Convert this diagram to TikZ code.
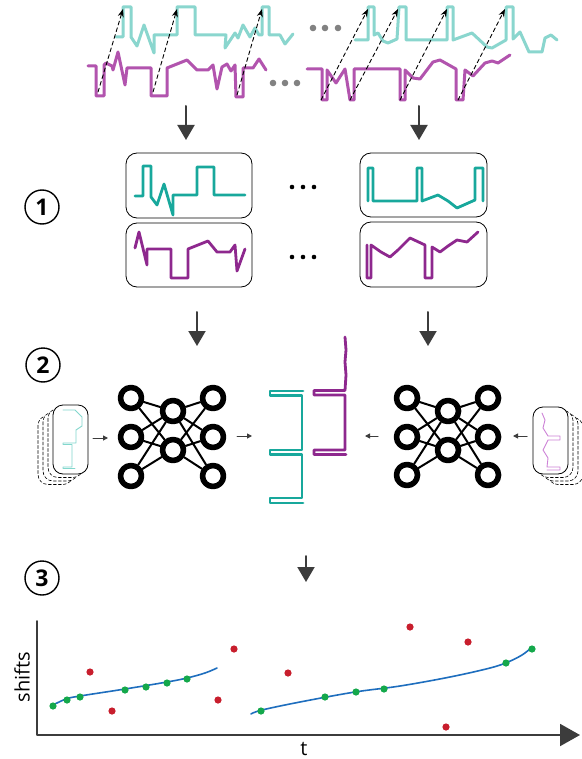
\documentclass[tikz,border=0pt]{standalone}
\usepackage{fontspec}
\setmainfont{Open Sans}
\usetikzlibrary{arrows.meta}
\definecolor{tealTop}{RGB}{138,214,206}
\definecolor{magTop}{RGB}{178,84,174}
\definecolor{tealDark}{RGB}{24,168,156}
\definecolor{magDark}{RGB}{142,40,142}
\definecolor{tealCard}{RGB}{130,215,205}
\definecolor{magCard}{RGB}{205,130,215}
\definecolor{arrowGrey}{RGB}{60,60,60}
\definecolor{dotGrey}{RGB}{130,130,130}
\definecolor{ptRed}{RGB}{200,30,45}
\definecolor{ptGreen}{RGB}{20,168,75}
\definecolor{fitBlue}{RGB}{30,110,190}
\tikzset{
  sigtealtop/.style={draw=tealTop,line width=3pt},
  sigmagtop/.style={draw=magTop,line width=3pt},
  sigteal/.style={draw=tealDark,line width=2.8pt},
  sigmag/.style={draw=magDark,line width=2.8pt},
  shiftarrow/.style={draw=black,line width=0.9pt,dash pattern=on 4pt off 3pt,-{Stealth[length=8pt,width=6pt]}},
  bigarrow/.style={draw=arrowGrey,line width=2pt,-{Triangle[length=15pt,width=17pt]}},
  smallarrow/.style={draw=arrowGrey,line width=1pt,-{Triangle[length=5pt,width=5pt]}},
  panel/.style={draw=black,line width=0.8pt,rounded corners=11pt},
  frontcard/.style={draw=black,fill=white,line width=0.8pt,rounded corners=10pt},
  backcard/.style={draw=black,fill=white,line width=0.6pt,densely dashed,rounded corners=10pt},
  neuron/.style={circle,draw=black,fill=white,line width=5.6pt,minimum size=21pt,inner sep=0pt},
  synapse/.style={draw=black,line width=2pt},
  steplabel/.style={circle,draw=black,line width=1.4pt,minimum size=34pt,inner sep=0pt,font=\fontsize{23}{23}\selectfont\bfseries},
  greydot/.style={fill=dotGrey},
  blackdot/.style={fill=black},
  reddot/.style={fill=ptRed},
  greendot/.style={fill=ptGreen},
}
\begin{document}
\begin{tikzpicture}[x=1pt,y=-1pt,line join=round,line cap=round]
\useasboundingbox (0,0) rectangle (581,759);
\fill[white] (0,0) rectangle (581,759);

% ---------- raw channels, top row ----------
\draw[sigtealtop] (116,37) -- (123,37) -- (123,7) -- (131,7) -- (131,37) -- (137,46) -- (144,25) -- (154,53) -- (154,35) -- (177,35) -- (177,7) -- (195,7) -- (195,35) -- (226,35) -- (225,48) -- (235,33) -- (238,38) -- (243,25) -- (250,37) -- (255,28) -- (259,35) -- (262,35) -- (262,7) -- (269,7) -- (269,35) -- (280,35) -- (285,44) -- (293,34);
\draw[sigmagtop] (88,66) -- (96,66) -- (96,96) -- (104,96) -- (104,65) -- (106,63) -- (112,66) -- (113,70) -- (118,52) -- (125,85) -- (127,68) -- (151,68) -- (151,96) -- (167,96) -- (167,68) -- (187,60) -- (197,70) -- (208,70) -- (213,65) -- (217,89) -- (222,67) -- (227,64) -- (231,71) -- (235,65) -- (236,97) -- (243,97) -- (243,68) -- (253,68) -- (259,59) -- (266,70);

\draw[sigtealtop] (355,40) -- (368,40) -- (368,7) -- (374,7) -- (374,35) -- (378,33) -- (383,41) -- (388,43) -- (397,39) -- (399,7) -- (406,7) -- (406,40) -- (447,40) -- (447,7) -- (453,7) -- (453,40) -- (472,33) -- (487,47) -- (492,48) -- (506,40) -- (506,7) -- (513,7) -- (513,39) -- (520,32) -- (529,52) -- (542,52) -- (545,38) -- (551,35) -- (557,40);
\draw[sigmagtop] (307,69) -- (322,69) -- (322,100) -- (327,100) -- (327,70) -- (336,83) -- (345,69) -- (350,100) -- (354,100) -- (354,69) -- (400,69) -- (400,100) -- (405,100) -- (405,70) -- (413,78) -- (420,79) -- (433,62) -- (440,60) -- (456,69) -- (456,100) -- (463,100) -- (465,70) -- (473,76) -- (485,63) -- (492,61) -- (498,63) -- (510,55);

% ellipses between the two halves
\foreach \x in {273,285,297} \fill[greydot] (\x,83) circle[radius=3.3pt];
\foreach \x in {313,325,338} \fill[greydot] (\x,28) circle[radius=3.3pt];

% shift vectors from the lower channel to the upper one
\foreach \i/\ax/\ay/\bx/\by in {1/98/92/123/9, 2/153/92/177/9, 3/237/95/262/9, 4/321/100/368/9, 5/350/100/398/9, 6/400/100/447/9, 7/458/100/505/9}{
  \coordinate (s\i) at (\ax,\ay);
  \coordinate (e\i) at (\bx,\by);
  \draw[shiftarrow] (s\i) -- (e\i);
}

% ---------- step 1: aligned windows ----------
\coordinate (d1a) at (186,106); \coordinate (d1b) at (186,140);
\coordinate (d2a) at (419,106); \coordinate (d2b) at (419,140);
\draw[bigarrow] (d1a) -- (d1b);
\draw[bigarrow] (d2a) -- (d2b);

\node[steplabel] (n1) at (42,207) {1};

\draw[panel] (126,153) rectangle (252,218);
\draw[panel] (126,223) rectangle (252,287);
\draw[panel] (360,153) rectangle (487,217);
\draw[panel] (360,222) rectangle (487,287);

\draw[sigteal] (135,196) -- (143,196) -- (143,166) -- (151,166) -- (151,197) -- (157,205) -- (164,184) -- (173,215) -- (173,195) -- (197,195) -- (197,167) -- (214,167) -- (214,195) -- (245,195);
\draw[sigmag] (135,248) -- (139,232) -- (147,265) -- (147,249) -- (171,249) -- (171,278) -- (188,278) -- (188,249) -- (208,241) -- (217,252) -- (230,252) -- (235,245) -- (237,271) -- (245,249);
\draw[sigteal] (368,201) -- (368,168) -- (373,168) -- (373,201) -- (417,201) -- (417,168) -- (422,168) -- (422,201) -- (438,195) -- (448,201) -- (457,208) -- (466,204) -- (475,200) -- (475,168) -- (483,168) -- (483,201);
\draw[sigmag] (367,245) -- (367,278) -- (371,278) -- (371,245) -- (381,252) -- (390,257) -- (398,250) -- (410,238) -- (425,245) -- (425,278) -- (432,278) -- (432,247) -- (440,252) -- (448,246) -- (457,240) -- (467,242) -- (478,232);

\foreach \x in {292,303,314} {
  \fill[blackdot] (\x,187) circle[radius=2.3pt];
  \fill[blackdot] (\x,257) circle[radius=2.3pt];
}

% ---------- step 2: shift estimation networks ----------
\coordinate (d3a) at (197,312); \coordinate (d3b) at (197,346);
\coordinate (d4a) at (428,312); \coordinate (d4b) at (428,346);
\draw[bigarrow] (d3a) -- (d3b);
\draw[bigarrow] (d4a) -- (d4b);

\node[steplabel] (n2) at (43,365) {2};

% left network
\foreach \n/\x/\y in {l1/131/398, l2/131/437, l3/131/476, m1/173/411, m2/173/450, r1/213/398, r2/213/437, r3/213/476}
  \node[neuron] (L\n) at (\x,\y) {};
% right network
\foreach \n/\x/\y in {l1/407/398, l2/407/437, l3/407/475, m1/448/411, m2/448/450, r1/488/398, r2/488/437, r3/488/475}
  \node[neuron] (R\n) at (\x,\y) {};
\foreach \net in {L,R}{
  \foreach \a in {l1,l2,l3}
    \foreach \b in {m1,m2}
      \draw[synapse] (\net\a) -- (\net\b);
  \foreach \a in {m1,m2}
    \foreach \b in {r1,r2,r3}
      \draw[synapse] (\net\a) -- (\net\b);
}

% input stacks
\foreach \k in {3,2,1}
  \draw[backcard] (53-5*\k,405+3.5*\k) rectangle (88-5*\k,474+3.5*\k);
\draw[frontcard] (53,405) rectangle (88,474);
\draw[draw=tealCard,line width=0.9pt] (63,410) -- (75,410) -- (82,417) -- (82,426) -- (76,430) -- (76,443) -- (63,443) -- (63,444.5) -- (72,444.5) -- (72,467) -- (63,467) -- (63,468.5) -- (75,468.5);

\foreach \k in {3,2,1}
  \draw[backcard] (533+5*\k,407+3.5*\k) rectangle (568+5*\k,474+3.5*\k);
\draw[frontcard] (533,407) rectangle (568,474);
\draw[draw=magCard,line width=0.9pt] (542,413) -- (545,420) -- (543,428) -- (548,436) -- (560,436) -- (560,440) -- (548,440) -- (543,450) -- (548,458) -- (547,467) -- (560,467) -- (560,470) -- (547,470);

\coordinate (la1) at (93,438); \coordinate (la2) at (108,438);
\coordinate (lb1) at (237,436); \coordinate (lb2) at (252,436);
\coordinate (ra1) at (378,436); \coordinate (ra2) at (365,436);
\coordinate (rb1) at (527,436); \coordinate (rb2) at (513,436);
\draw[smallarrow] (la1) -- (la2);
\draw[smallarrow] (lb1) -- (lb2);
\draw[smallarrow] (ra1) -- (ra2);
\draw[smallarrow] (rb1) -- (rb2);

% estimated shift profiles
\draw[sigteal] (303,391) -- (270,391) -- (270,395.5) -- (302,395.5) -- (302,450) -- (270,450) -- (270,454.5) -- (302,454.5) -- (302,498) -- (270,498) -- (270,503) -- (303,503);
\draw[sigmag] (345,337) -- (346,350) -- (345,362) -- (346,375) -- (345,390.5) -- (314,390.5) -- (314,395) -- (345,395) -- (345,450) -- (314,450) -- (314,454.5) -- (346,454.5);

% ---------- step 3: drift fit ----------
\coordinate (d5a) at (306,556); \coordinate (d5b) at (306,582);
\draw[bigarrow] (d5a) -- (d5b);

\node[steplabel] (n3) at (42,578) {3};

\coordinate (ytop) at (37,621);
\coordinate (origin) at (37,735);
\coordinate (xend) at (580,735);
\draw[draw=arrowGrey,line width=2pt,-{Triangle[length=20pt,width=22pt]}] (ytop) -- (origin) -- (xend);
\node[font=\fontsize{20}{20}\selectfont,rotate=90] (ylab) at (22,677) {shifts};
\node[font=\fontsize{20}{20}\selectfont] (xlab) at (304,749) {t};

\draw[draw=fitBlue,line width=1.6pt] plot[smooth,tension=0.6] coordinates {(51,706) (66,699) (80,696) (125,689) (167,682) (187,678) (205,673) (217,668)};
\draw[draw=fitBlue,line width=1.6pt] plot[smooth,tension=0.6] coordinates {(251,714) (262,710) (300,702) (355,692) (400,686) (450,677) (490,668) (508,662) (522,655) (531,648)};

\foreach \x/\y in {53/706, 67/700, 80/697, 125/690, 146/687, 167/683, 187/679, 261/711, 325/697, 356/692, 384/689, 506/663, 532/649}
  \fill[greendot] (\x,\y) circle[radius=3.6pt];
\foreach \x/\y in {90/672, 112/711, 234/649, 218/700, 288/673, 410/627, 468/642, 446/727}
  \fill[reddot] (\x,\y) circle[radius=3.6pt];
\end{tikzpicture}
\end{document}
